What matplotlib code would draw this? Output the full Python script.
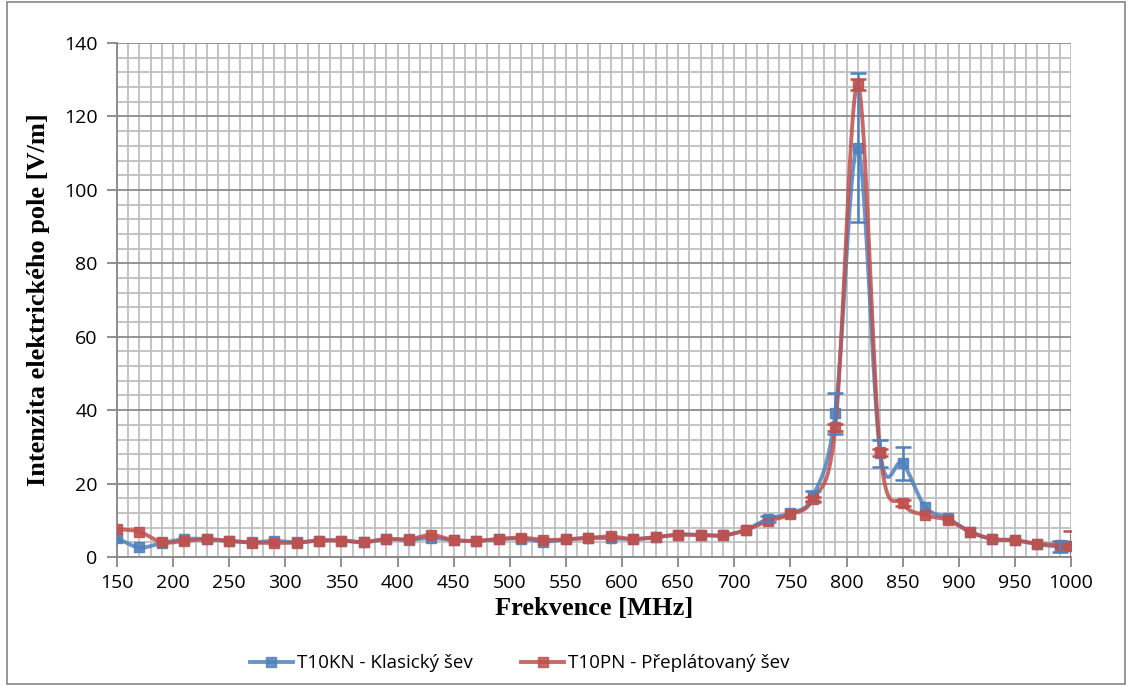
import numpy as np
import matplotlib
matplotlib.use("Agg")
import matplotlib.pyplot as plt
from matplotlib.patches import Rectangle

# frequency points [MHz]
freq = [150, 170, 190, 210, 230, 250, 270, 290, 310, 330, 350, 370, 390, 410,
        430, 450, 470, 490, 510, 530, 550, 570, 590, 610, 630, 650, 670, 690,
        710, 730, 750, 770, 790, 810, 830, 850, 870, 890, 910, 930, 950, 970,
        990, 1000]

# T10KN - classic seam
kn = [5.1, 2.6, 3.8, 4.9, 4.9, 4.4, 4.0, 4.4, 4.0, 4.5, 4.5, 4.0, 4.9, 4.7,
      5.2, 4.6, 4.4, 4.9, 5.0, 4.2, 4.8, 5.2, 5.1, 4.9, 5.4, 6.1, 6.0, 5.9,
      7.4, 10.4, 12.0, 16.5, 39.1, 111.5, 28.3, 25.6, 13.7, 10.6, 6.9, 4.9,
      4.6, 3.5, 2.8, 2.9]
kn_err = [0, 0, 0, 0, 0, 0, 0, 0, 0, 0, 0, 0, 0, 0,
          0, 0, 0, 0, 0, 0, 0, 0, 0, 0, 0, 0, 0, 0,
          0, 0.8, 0, 1.5, 5.5, 20.3, 3.7, 4.5, 0, 0, 0, 0,
          0, 0, 1.5, 0]

# T10PN - overlapped seam
pn = [7.6, 6.9, 4.0, 4.4, 4.8, 4.4, 3.9, 3.9, 3.9, 4.5, 4.5, 4.1, 4.9, 4.8,
      6.0, 4.6, 4.4, 4.9, 5.3, 4.7, 4.8, 5.2, 5.6, 4.9, 5.4, 6.1, 6.0, 5.9,
      7.3, 9.8, 11.6, 15.8, 35.3, 128.8, 28.5, 14.6, 11.4, 10.1, 6.9, 4.9,
      4.6, 3.6, 3.3, 3.0]
pn_err = [0, 0, 0, 0, 0, 0, 0, 0, 0, 0, 0, 0, 0, 0,
          0, 0, 0, 0, 0, 0, 0, 0, 0, 0, 0, 0, 0, 0,
          0, 0, 0, 0.6, 1.0, 1.5, 1.0, 0.8, 0, 0, 0, 0,
          0, 0, 0, 4.0]

labels = ["T10KN - Klasický šev", "T10PN - Přeplátovaný šev"]
blue = "#4F81BD"
red = "#C0504D"


def smooth(x, y, n=20):
    # Bezier curve through the points, like Excel's smoothed lines
    x = np.asarray(x, float)
    y = np.asarray(y, float)
    px = np.concatenate([[2 * x[0] - x[1]], x, [2 * x[-1] - x[-2]]])
    py = np.concatenate([[2 * y[0] - y[1]], y, [2 * y[-1] - y[-2]]])
    xs, ys = [], []
    t = np.linspace(0, 1, n, endpoint=False)
    for i in range(1, len(px) - 2):
        p0, p1, p2, p3 = px[i - 1], px[i], px[i + 1], px[i + 2]
        q0, q1, q2, q3 = py[i - 1], py[i], py[i + 1], py[i + 2]
        b1x, b1y = p1 + (p2 - p0) / 6, q1 + (q2 - q0) / 6
        b2x, b2y = p2 - (p3 - p1) / 6, q2 - (q3 - q1) / 6
        xs.append((1 - t) ** 3 * p1 + 3 * (1 - t) ** 2 * t * b1x + 3 * (1 - t) * t ** 2 * b2x + t ** 3 * p2)
        ys.append((1 - t) ** 3 * q1 + 3 * (1 - t) ** 2 * t * b1y + 3 * (1 - t) * t ** 2 * b2y + t ** 3 * q2)
    xs.append([x[-1]])
    ys.append([y[-1]])
    return np.concatenate(xs), np.concatenate(ys)


fig = plt.figure(figsize=(11.3, 6.86), dpi=100)
ax = fig.add_axes([0.1035, 0.188, 0.8443, 0.7493])

sans = ["Open Sans", "DejaVu Sans"]
serif = "Liberation Serif"

for y, e, c, z in [(kn, kn_err, blue, 3), (pn, pn_err, red, 4)]:
    sx, sy = smooth(freq, y)
    ax.plot(sx, sy, color=c, lw=2.8, alpha=0.85, zorder=z, solid_capstyle="round")
    ax.plot(freq, y, ls="none", marker="s", ms=7, color=c, alpha=0.9, zorder=z)
    idx = [i for i in range(len(freq)) if e[i] > 0]
    ax.errorbar([freq[i] for i in idx], [y[i] for i in idx], yerr=[e[i] for i in idx],
                fmt="none", ecolor=c, elinewidth=1.8, capsize=6, capthick=1.8, zorder=z + 2)

ax.set_xlim(150, 1000)
ax.set_ylim(0, 140)
ax.set_xticks(np.arange(150, 1001, 50))
ax.set_xticks(np.arange(150, 1001, 10), minor=True)
ax.set_yticks(np.arange(0, 141, 20))
ax.set_yticks(np.arange(0, 141, 4), minor=True)

ax.grid(which="minor", color="#BFBFBF", lw=1.3, zorder=0)
ax.grid(which="major", axis="x", color="#BFBFBF", lw=1.3, zorder=0)
ax.grid(which="major", axis="y", color="#8C8C8C", lw=1.3, zorder=0)
ax.set_axisbelow(True)

for s in ["top", "right"]:
    ax.spines[s].set_visible(False)
for s in ["left", "bottom"]:
    ax.spines[s].set_color("#868686")
    ax.spines[s].set_linewidth(1.3)

ax.tick_params(which="major", direction="out", length=7, width=1.3, color="#868686",
               labelsize=14)
ax.tick_params(axis="y", pad=7)
ax.tick_params(axis="x", pad=5)
ax.tick_params(which="minor", length=0)
for lab in ax.get_xticklabels() + ax.get_yticklabels():
    lab.set_family(sans)

ax.set_xlabel("Frekvence [MHz]", fontsize=19, fontweight="bold", family=serif, labelpad=4)
ax.set_ylabel("Intenzita elektrického pole [V/m]", fontsize=19, fontweight="bold",
              family=serif, labelpad=10)

h1, = ax.plot([], [], color=blue, lw=2.8, marker="s", ms=7, alpha=0.85)
h2, = ax.plot([], [], color=red, lw=2.8, marker="s", ms=7, alpha=0.85)
fig.legend([h1, h2], labels, loc="center", bbox_to_anchor=(0.46, 0.033), ncol=2,
           frameon=False, prop={"family": sans, "size": 13.5}, handlelength=2.3,
           columnspacing=2.6, handletextpad=0.2)

fig.patches.append(Rectangle((0.006, 0.003), 0.99, 0.994, transform=fig.transFigure,
                             fill=False, edgecolor="#868686", lw=1.2))

fig.savefig("out.png", dpi=100)
